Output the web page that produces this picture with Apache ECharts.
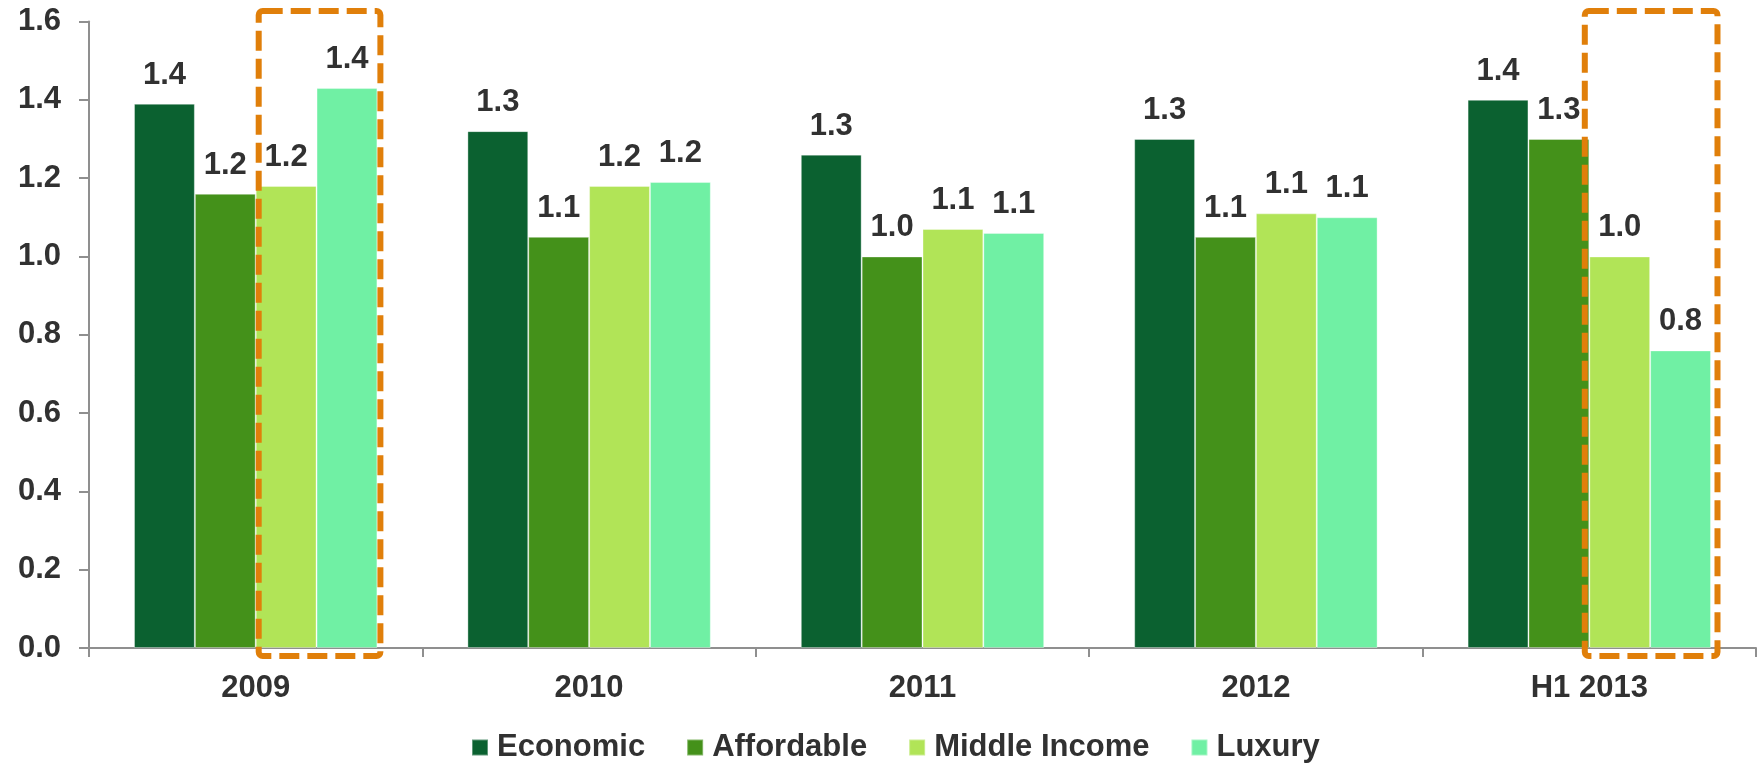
<!DOCTYPE html>
<html>
<head>
<meta charset="utf-8">
<title>Housing segments 2009 – H1 2013</title>
<script src="https://cdn.jsdelivr.net/npm/echarts@6/dist/echarts.min.js"></script>
<style>
  html, body { margin: 0; padding: 0; background: #ffffff; }
  #chart { width: 1757px; height: 763px; }
</style>
</head>
<body>
<div id="chart"></div>
<script>
// Categories and series values
const categories = ['2009', '2010', '2011', '2012', 'H1 2013'];
const seriesNames = ['Economic', 'Affordable', 'Middle Income', 'Luxury'];
const economic     = [1.39, 1.32, 1.26, 1.30, 1.40];
const affordable   = [1.16, 1.05, 1.00, 1.05, 1.30];
const middleIncome = [1.18, 1.18, 1.07, 1.11, 1.00];
const luxury       = [1.43, 1.19, 1.06, 1.10, 0.76];
const yTicks = ['0.0', '0.2', '0.4', '0.6', '0.8', '1.0', '1.2', '1.4', '1.6'];

// Groups outlined with a dashed frame: category index and the series range it covers
const highlights = [
  { category: 0, fromSeries: 2, toSeries: 3 },
  { category: 4, fromSeries: 2, toSeries: 3 }
];

const colors = ['#0b6130', '#44911a', '#b1e457', '#70f0a4'];
const seriesData = [economic, affordable, middleIncome, luxury];
const textColor = '#313131';
const axisColor = '#8f8f8f';
const font = 'Liberation Sans, Arial, Helvetica, sans-serif';
const barGapRatio = 0.27;

const chart = echarts.init(document.getElementById('chart'), null, { renderer: 'canvas' });

const option = {
  animation: false,
  backgroundColor: '#ffffff',
  color: colors,
  grid: { left: 89, right: 1, top: 21.5, bottom: 115, containLabel: false },
  legend: {
    data: seriesNames,
    left: 471,
    top: 732,
    padding: 0,
    itemWidth: 16,
    itemHeight: 16,
    itemGap: 41,
    icon: 'rect',
    textStyle: {
      fontFamily: font, fontSize: 31, fontWeight: 'bold', color: textColor,
      lineHeight: 31, padding: [0, 0, 0, 4]
    }
  },
  xAxis: {
    type: 'category',
    data: categories,
    axisLine: { lineStyle: { color: axisColor, width: 2 } },
    axisTick: { show: true, length: 9, lineStyle: { color: axisColor, width: 2 } },
    axisLabel: {
      fontFamily: font, fontSize: 31, fontWeight: 'bold', color: textColor,
      margin: 25, lineHeight: 31
    },
    splitLine: { show: false }
  },
  yAxis: {
    type: 'value',
    min: 0,
    max: 1.6,
    interval: 0.2,
    axisLine: { show: true, lineStyle: { color: axisColor, width: 2 } },
    axisTick: { show: true, length: 10, lineStyle: { color: axisColor, width: 2 } },
    axisLabel: {
      fontFamily: font, fontSize: 31, fontWeight: 'bold', color: textColor,
      margin: 28,
      formatter: function (v) { return yTicks[Math.round(v / 0.2)]; }
    },
    splitLine: { show: false }
  },
  series: seriesNames.map(function (name, i) {
    return {
      name: name,
      type: 'bar',
      data: seriesData[i],
      barGap: '0%',
      barCategoryGap: (barGapRatio * 100) + '%',
      itemStyle: {
        color: colors[i],
        borderColor: 'rgba(255,255,255,0.35)',
        borderWidth: 1
      },
      label: {
        show: true,
        position: 'top',
        distance: 13,
        fontFamily: font,
        fontSize: 31,
        fontWeight: 'bold',
        color: textColor,
        lineHeight: 31,
        formatter: function (p) { return p.value.toFixed(1); }
      }
    };
  })
};

chart.setOption(option);

// Dashed orange frames around the highlighted bar pairs
function drawFrames() {
  const c0 = chart.convertToPixel({ xAxisIndex: 0 }, 0);
  const c1 = chart.convertToPixel({ xAxisIndex: 0 }, 1);
  const band = c1 - c0;
  const barW = band * (1 - barGapRatio) / seriesNames.length;
  const yTop = chart.convertToPixel({ yAxisIndex: 0 }, 1.6) - 10.5;
  const yBottom = chart.convertToPixel({ yAxisIndex: 0 }, 0) + 8;
  // small horizontal nudges for each frame (left, right)
  const nudges = [[3, 3], [-4.5, 6.5]];

  const elements = highlights.map(function (h, k) {
    const center = chart.convertToPixel({ xAxisIndex: 0 }, h.category);
    const groupStart = center - barW * seriesNames.length / 2;
    const x0 = groupStart + h.fromSeries * barW + nudges[k][0];
    const x1 = groupStart + (h.toSeries + 1) * barW + nudges[k][1];
    return {
      type: 'rect',
      z: 100,
      shape: { x: x0, y: yTop, width: x1 - x0, height: yBottom - yTop, r: 4 },
      style: {
        fill: 'none',
        stroke: '#e07f0a',
        lineWidth: 6,
        lineDash: [20, 8]
      }
    };
  });
  chart.setOption({ graphic: { elements: elements } });
}
drawFrames();
</script>
</body>
</html>
